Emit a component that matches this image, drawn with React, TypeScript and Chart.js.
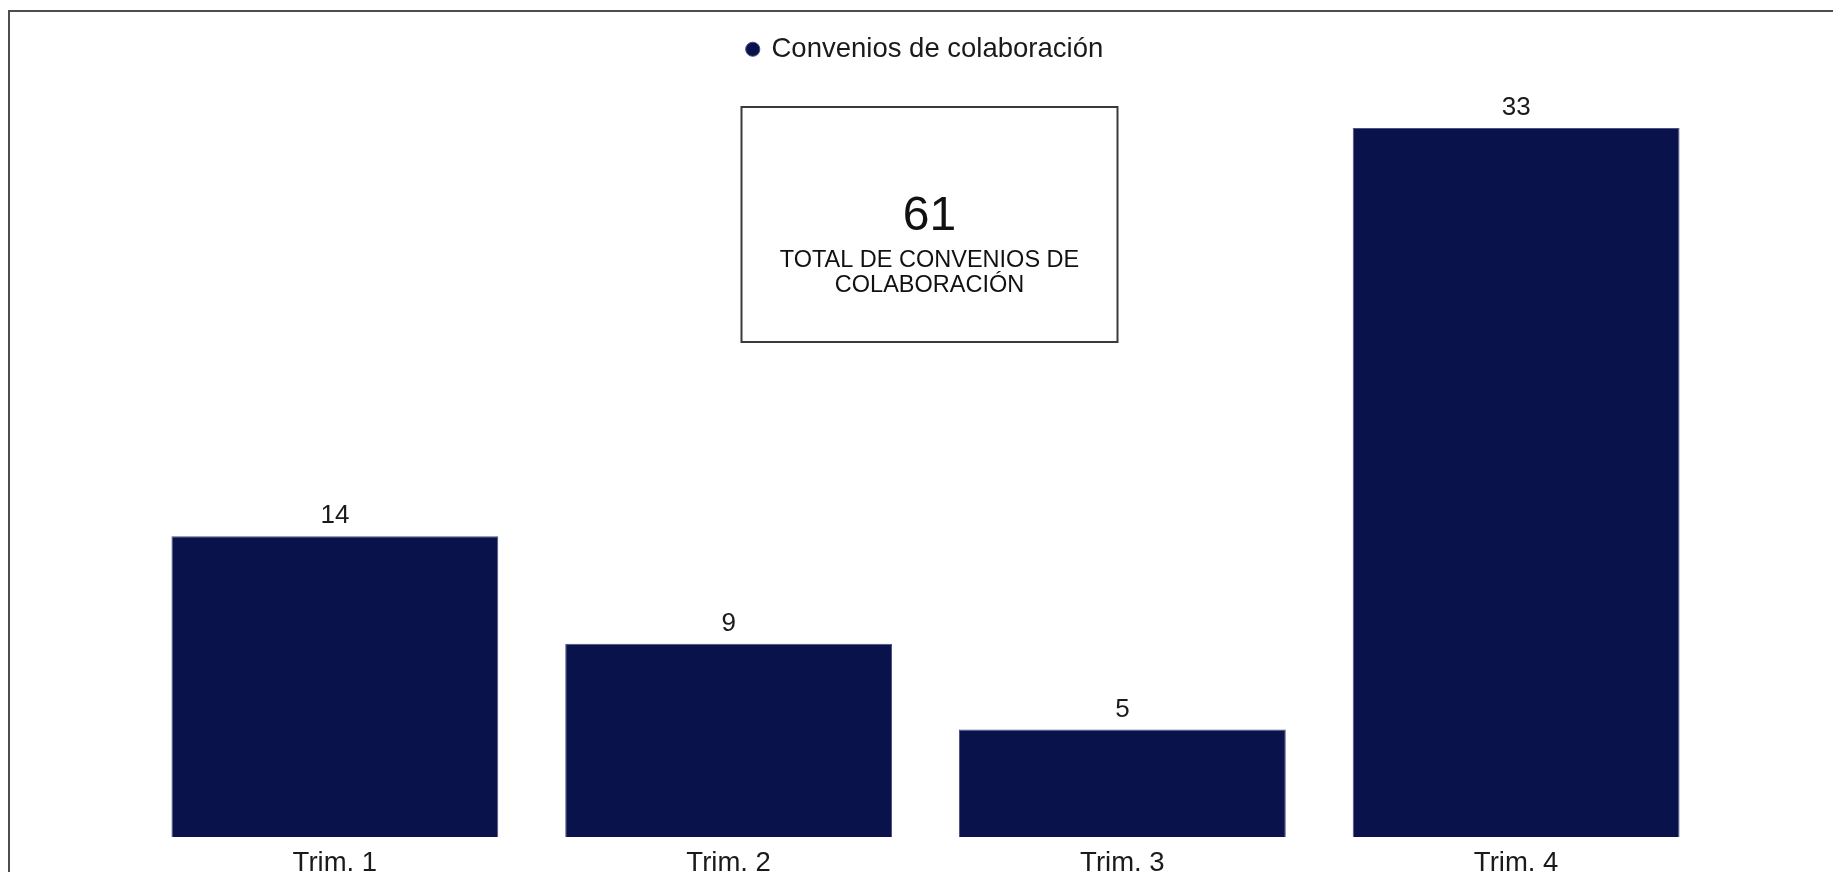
import React, { useEffect, useRef } from "react";
import { Chart, registerables } from "chart.js";

Chart.register(...registerables);

const categories = ["Trim. 1", "Trim. 2", "Trim. 3", "Trim. 4"];
const seriesLabel = "Convenios de colaboración";
const seriesValues = [14, 9, 5, 33];
const totalLines = ["TOTAL DE CONVENIOS DE", "COLABORACIÓN"];

const FONT = "'Liberation Sans', Arial, Helvetica, sans-serif";
const NAVY = "#0a124c";
const TEXT = "#1a1a1a";

const valueLabels = {
  id: "valueLabels",
  afterDatasetsDraw(chart: any) {
    const ctx = chart.ctx;
    const meta = chart.getDatasetMeta(0);
    const data = chart.data.datasets[0].data as number[];
    ctx.save();
    ctx.font = `26px ${FONT}`;
    ctx.fillStyle = TEXT;
    ctx.textAlign = "center";
    ctx.textBaseline = "middle";
    meta.data.forEach((bar: any, i: number) => {
      ctx.fillText(String(data[i]), bar.x, bar.y - 20);
    });
    ctx.restore();
  },
};

const totalBox = {
  id: "totalBox",
  afterDraw(chart: any) {
    const { ctx, chartArea } = chart;
    const data = chart.data.datasets[0].data as number[];
    const total = data.reduce((a, b) => a + b, 0);
    const cx = (chartArea.left + chartArea.right) / 2 + 4;
    const w = 376;
    const h = 235;
    const top = chartArea.top + 22;
    ctx.save();
    ctx.fillStyle = "#ffffff";
    ctx.fillRect(cx - w / 2, top, w, h);
    ctx.strokeStyle = "#3a3a3a";
    ctx.lineWidth = 2;
    ctx.strokeRect(cx - w / 2, top, w, h);
    ctx.fillStyle = "#111111";
    ctx.textAlign = "center";
    ctx.textBaseline = "middle";
    ctx.font = `48px ${FONT}`;
    ctx.fillText(String(total), cx, top + 110);
    ctx.font = `23.5px ${FONT}`;
    totalLines.forEach((line, i) => ctx.fillText(line, cx, top + 154 + i * 25));
    ctx.restore();
  },
};

const legendSpacing = {
  id: "legendSpacing",
  beforeInit(chart: any) {
    const legend = chart.legend;
    if (!legend) return;
    const origFit = legend.fit;
    legend.fit = function () {
      origFit.call(this);
      this.height += 12;
    };
  },
};

export default function App() {
  const canvasRef = useRef<HTMLCanvasElement | null>(null);

  useEffect(() => {
    if (!canvasRef.current) return;
    const chart = new Chart(canvasRef.current, {
      type: "bar",
      data: {
        labels: categories,
        datasets: [
          {
            label: seriesLabel,
            data: seriesValues,
            backgroundColor: NAVY,
            borderColor: "#4b5180",
            borderWidth: 1,
            barPercentage: 0.83,
            categoryPercentage: 1,
          },
        ],
      },
      options: {
        animation: false,
        responsive: true,
        maintainAspectRatio: false,
        layout: { padding: { top: 13.5, left: 128, right: 120, bottom: 7 } },
        scales: {
          x: {
            grid: { display: false, drawTicks: false },
            border: { display: false },
            ticks: { color: TEXT, padding: 9.5, font: { family: FONT, size: 27.5 } },
          },
          y: {
            display: false,
            min: 0,
            max: 35,
          },
        },
        plugins: {
          tooltip: { enabled: false },
          legend: {
            display: true,
            position: "top",
            labels: {
              usePointStyle: true,
              pointStyle: "circle",
              boxWidth: 10,
              boxHeight: 10,
              padding: 10,
              color: TEXT,
              font: { family: FONT, size: 27.5 },
            },
          },
        },
      },
      plugins: [legendSpacing, valueLabels, totalBox],
    });
    return () => chart.destroy();
  }, []);

  return (
    <div
      style={{
        position: "relative",
        top: 2,
        borderLeft: "2px solid #4d4d4d",
        borderTop: "2px solid #4d4d4d",
        height: 862,
        overflow: "hidden",
        background: "#ffffff",
      }}
    >
      <div style={{ position: "relative", width: "100%", height: 884 }}>
        <canvas ref={canvasRef} />
      </div>
    </div>
  );
}
